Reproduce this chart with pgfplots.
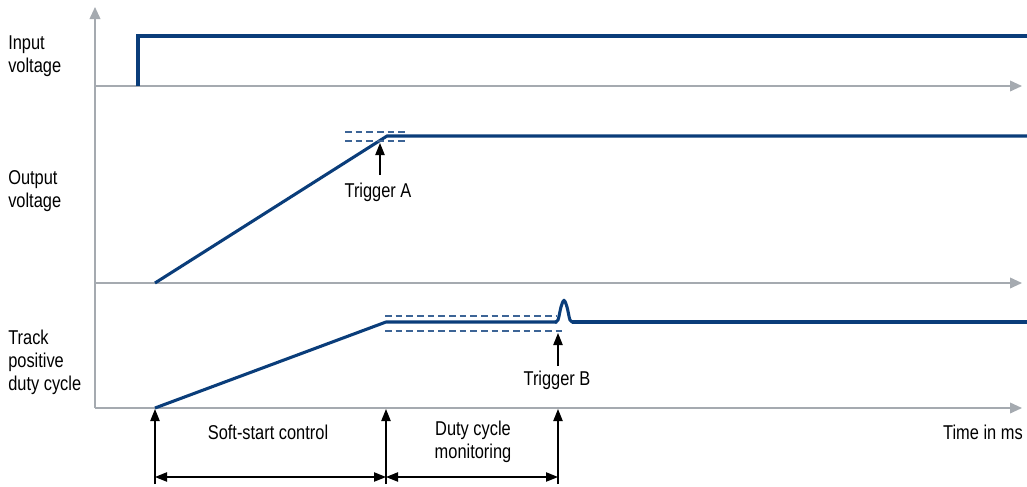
\documentclass[border=0pt]{standalone}
\usepackage{fontspec}
\setmainfont{Liberation Sans}[FakeStretch=0.82]
\usepackage{pgfplots}
\pgfplotsset{compat=1.18}
\usetikzlibrary{arrows.meta}
\definecolor{navy}{RGB}{10,61,122}
\definecolor{dashc}{RGB}{60,100,150}
\definecolor{axgray}{RGB}{165,170,176}
\begin{document}
\begin{tikzpicture}
\begin{axis}[
  scale only axis, width=770.25pt, height=364.5pt,
  xmin=0, xmax=1027, ymin=0, ymax=486, y dir=reverse,
  hide axis, clip=false,
  every axis plot/.append style={no markers},
]
% axes
\addplot[axgray, line width=1.2pt, -{Triangle[width=8pt,length=9pt]}] coordinates {(95,408) (95,7)};
\addplot[axgray, line width=1.2pt, -{Triangle[width=8pt,length=9pt]}] coordinates {(95,86) (1022,86)};
\addplot[axgray, line width=1.2pt, -{Triangle[width=8pt,length=9pt]}] coordinates {(95,283) (1022,283)};
\addplot[axgray, line width=1.2pt, -{Triangle[width=8pt,length=9pt]}] coordinates {(95,408) (1022,408)};
% signals
\addplot[navy, line width=2.3pt] coordinates {(138,86) (138,36) (1027,36)};
\addplot[navy, line width=2.3pt] coordinates {(155,283) (387,136) (1027,136)};
\addplot[navy, line width=2.3pt, line join=round] coordinates {(155,408) (386,322) (557,322)};
\addplot[navy, line width=2.3pt, smooth, tension=0.6] coordinates {(555,322) (558,320) (561,307) (564,300.5) (567,307) (570,320) (573,322)};
\addplot[navy, line width=2.3pt] coordinates {(572,322) (1027,322)};
% dashed tolerance bands
\addplot[dashc, line width=1pt, dash pattern=on 5pt off 3pt] coordinates {(345,132) (405,132)};
\addplot[dashc, line width=1pt, dash pattern=on 5pt off 3pt] coordinates {(345,141) (405,141)};
\addplot[dashc, line width=1pt, dash pattern=on 5pt off 3pt] coordinates {(385,316) (557,316)};
\addplot[dashc, line width=1pt, dash pattern=on 5pt off 3pt] coordinates {(385,331) (564,331)};
% trigger arrows
\addplot[black, line width=0.9pt, -{Triangle[width=7pt,length=9pt]}] coordinates {(380,175) (380,143)};
\addplot[black, line width=0.9pt, -{Triangle[width=7pt,length=9pt]}] coordinates {(558,366) (558,333)};
% bottom arrows
\addplot[black, line width=0.9pt, -{Triangle[width=7pt,length=9pt]}] coordinates {(155,484) (155,409)};
\addplot[black, line width=0.9pt, -{Triangle[width=7pt,length=9pt]}] coordinates {(386,484) (386,409)};
\addplot[black, line width=0.9pt, -{Triangle[width=7pt,length=9pt]}] coordinates {(558,484) (558,409)};
\addplot[black, line width=0.9pt, {Triangle[width=7pt,length=9pt]}-{Triangle[width=7pt,length=9pt]}] coordinates {(155,477) (386,477)};
\addplot[black, line width=0.9pt, {Triangle[width=7pt,length=9pt]}-{Triangle[width=7pt,length=9pt]}] coordinates {(386,477) (558,477)};
% labels
\begin{scope}[every node/.style={font=\fontsize{15}{17.3}\selectfont, inner sep=0pt}]
\node[anchor=west, align=left] at (axis cs:8,56) {Input\\voltage};
\node[anchor=west, align=left] at (axis cs:8,191) {Output\\voltage};
\node[anchor=west, align=left] at (axis cs:8,362) {Track\\positive\\duty cycle};
\node at (axis cs:378,192) {Trigger A};
\node at (axis cs:557,380) {Trigger B};
\node at (axis cs:268,432) {Soft-start control};
\node[align=center] at (axis cs:473,442) {Duty cycle\\monitoring};
\node[anchor=east] at (axis cs:1023,432) {Time in ms};
\end{scope}
\end{axis}
\pgfresetboundingbox
\path (current axis.south west) rectangle (current axis.north east);
\end{tikzpicture}
\end{document}
